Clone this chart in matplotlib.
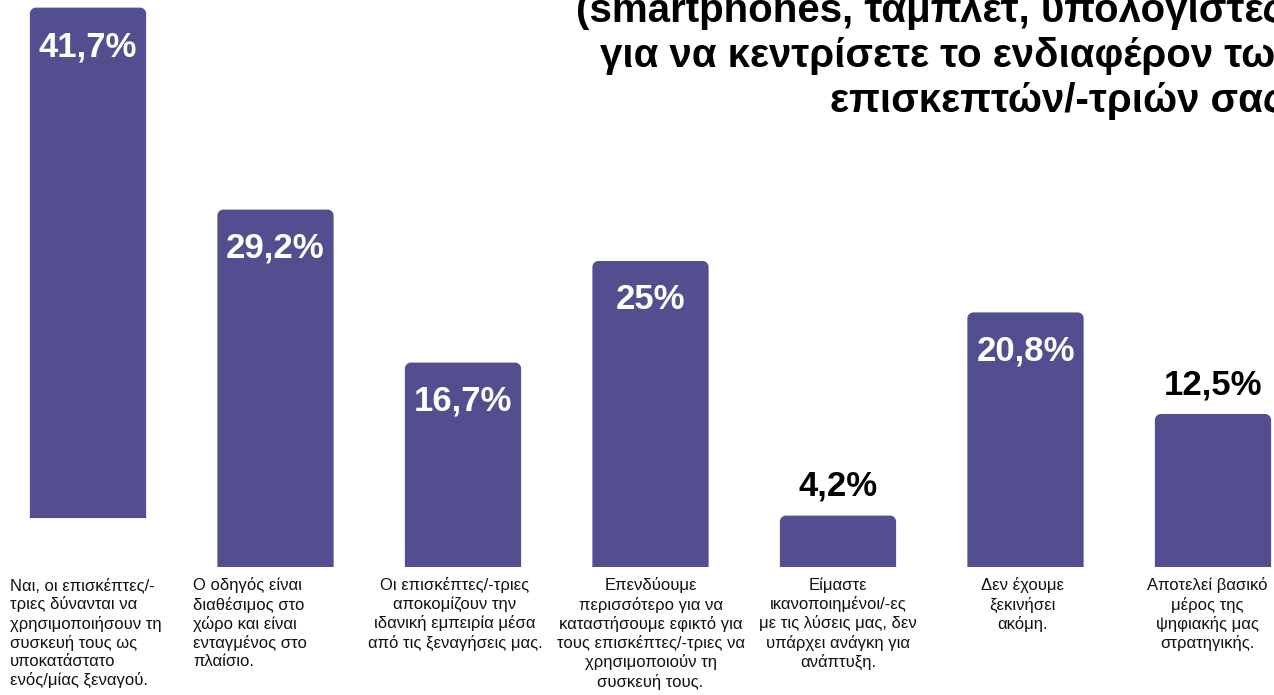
import matplotlib
matplotlib.use("Agg")
import matplotlib.pyplot as plt
from matplotlib.path import Path
from matplotlib.patches import PathPatch

# ── Data ──────────────────────────────────────────────────────────────────────
categories = [
    "Ναι, οι επισκέπτες/-\nτριες δύνανται να\nχρησιμοποιήσουν τη\nσυσκευή τους ως\nυποκατάστατο\nενός/μίας ξεναγού.",
    "Ο οδηγός είναι\nδιαθέσιμος στο\nχώρο και είναι\nενταγμένος στο\nπλαίσιο.",
    "Οι επισκέπτες/-τριες\nαποκομίζουν την\nιδανική εμπειρία μέσα\nαπό τις ξεναγήσεις μας.",
    "Επενδύουμε\nπερισσότερο για να\nκαταστήσουμε εφικτό για\nτους επισκέπτες/-τριες να\nχρησιμοποιούν τη\nσυσκευή τους.",
    "Είμαστε\nικανοποιημένοι/-ες\nμε τις λύσεις μας, δεν\nυπάρχει ανάγκη για\nανάπτυξη.",
    "Δεν έχουμε\nξεκινήσει\nακόμη.",
    "Αποτελεί βασικό\nμέρος της\nψηφιακής μας\nστρατηγικής.",
]
values = [41.7, 29.2, 16.7, 25, 4.2, 20.8, 12.5]

title_lines = [
    "(smartphones, ταμπλέτ, υπολογιστές)",
    "για να κεντρίσετε το ενδιαφέρον των",
    "επισκεπτών/-τριών σας;",
]

BAR = "#524E8F"
TITLE_FONT = ["Liberation Sans Narrow", "Liberation Sans", "DejaVu Sans"]
BODY_FONT = ["Liberation Sans", "DejaVu Sans"]

W, H = 1274, 695
fig = plt.figure(figsize=(W / 100, H / 100), dpi=100)
ax = fig.add_axes([0, 0, 1, 1])
ax.axis("off")

# axis scale: bar pitch 187.5 px, 12.24 px per percentage point, baseline at y=567
x0_px, pitch, base_px, ppu = 88, 187.5, 567, 12.24
ax.set_xlim((0 - x0_px) / pitch, (W - x0_px) / pitch)
ax.set_ylim(-(H - base_px) / ppu, base_px / ppu)

# first column floats a little above the common baseline
bottoms = [4.0] + [0] * (len(values) - 1)
x = list(range(len(values)))
bars = ax.bar(x, values, width=0.62, bottom=bottoms, color=BAR)

# swap the plain rectangles for ones with rounded top corners
rx, ry = 6 / pitch, 6 / ppu
k = 0.5523
for b in bars:
    x1, y1 = b.get_x(), b.get_y()
    x2, y2 = x1 + b.get_width(), y1 + b.get_height()
    verts = [
        (x1, y1), (x1, y2 - ry),
        (x1, y2 - ry + k * ry), (x1 + rx - k * rx, y2), (x1 + rx, y2),
        (x2 - rx, y2),
        (x2 - rx + k * rx, y2), (x2, y2 - ry + k * ry), (x2, y2 - ry),
        (x2, y1), (x1, y1),
    ]
    codes = [Path.MOVETO, Path.LINETO,
             Path.CURVE4, Path.CURVE4, Path.CURVE4,
             Path.LINETO,
             Path.CURVE4, Path.CURVE4, Path.CURVE4,
             Path.LINETO, Path.CLOSEPOLY]
    b.set_visible(False)
    ax.add_patch(PathPatch(Path(verts, codes), facecolor=BAR, edgecolor="none"))

# value labels: inside tall bars, above short ones
for b, v in zip(bars, values):
    txt = f"{v:g}".replace(".", ",") + "%"
    cx = b.get_x() + b.get_width() / 2
    top = b.get_y() + b.get_height()
    if v > 15:
        ax.annotate(txt, (cx, top), xytext=(0, -28), textcoords="offset points",
                    ha="center", va="center", color="white", fontsize=25,
                    fontweight="bold", family=BODY_FONT)
    else:
        ax.annotate(txt, (cx, top), xytext=(0, 21), textcoords="offset points",
                    ha="center", va="center", color="black", fontsize=25,
                    fontweight="bold", family=BODY_FONT)

# category labels under the bars (first two are left aligned)
label_shift = [0, 0, -8, 0, 0, -3, -6]
for i, lab in enumerate(categories):
    if i == 0:
        xp, ha = (10 - x0_px) / pitch, "left"
    elif i == 1:
        xp, ha = (193 - x0_px) / pitch, "left"
    else:
        xp, ha = i + label_shift[i] / pitch, "center"
    ax.text(xp, -0.85, lab, ha=ha, va="top", multialignment=ha,
            fontsize=12, linespacing=1.25, color="#111111", family=BODY_FONT)

# title block, right aligned and running off the top/right edge
for j, line in enumerate(title_lines):
    yb = 22 + 45 * j
    fig.text(1297 / W, 1 - yb / H, line, ha="right", va="baseline",
             fontsize=29, fontweight="bold", family=TITLE_FONT, color="black")

fig.savefig("out.png", dpi=100, facecolor="white")
